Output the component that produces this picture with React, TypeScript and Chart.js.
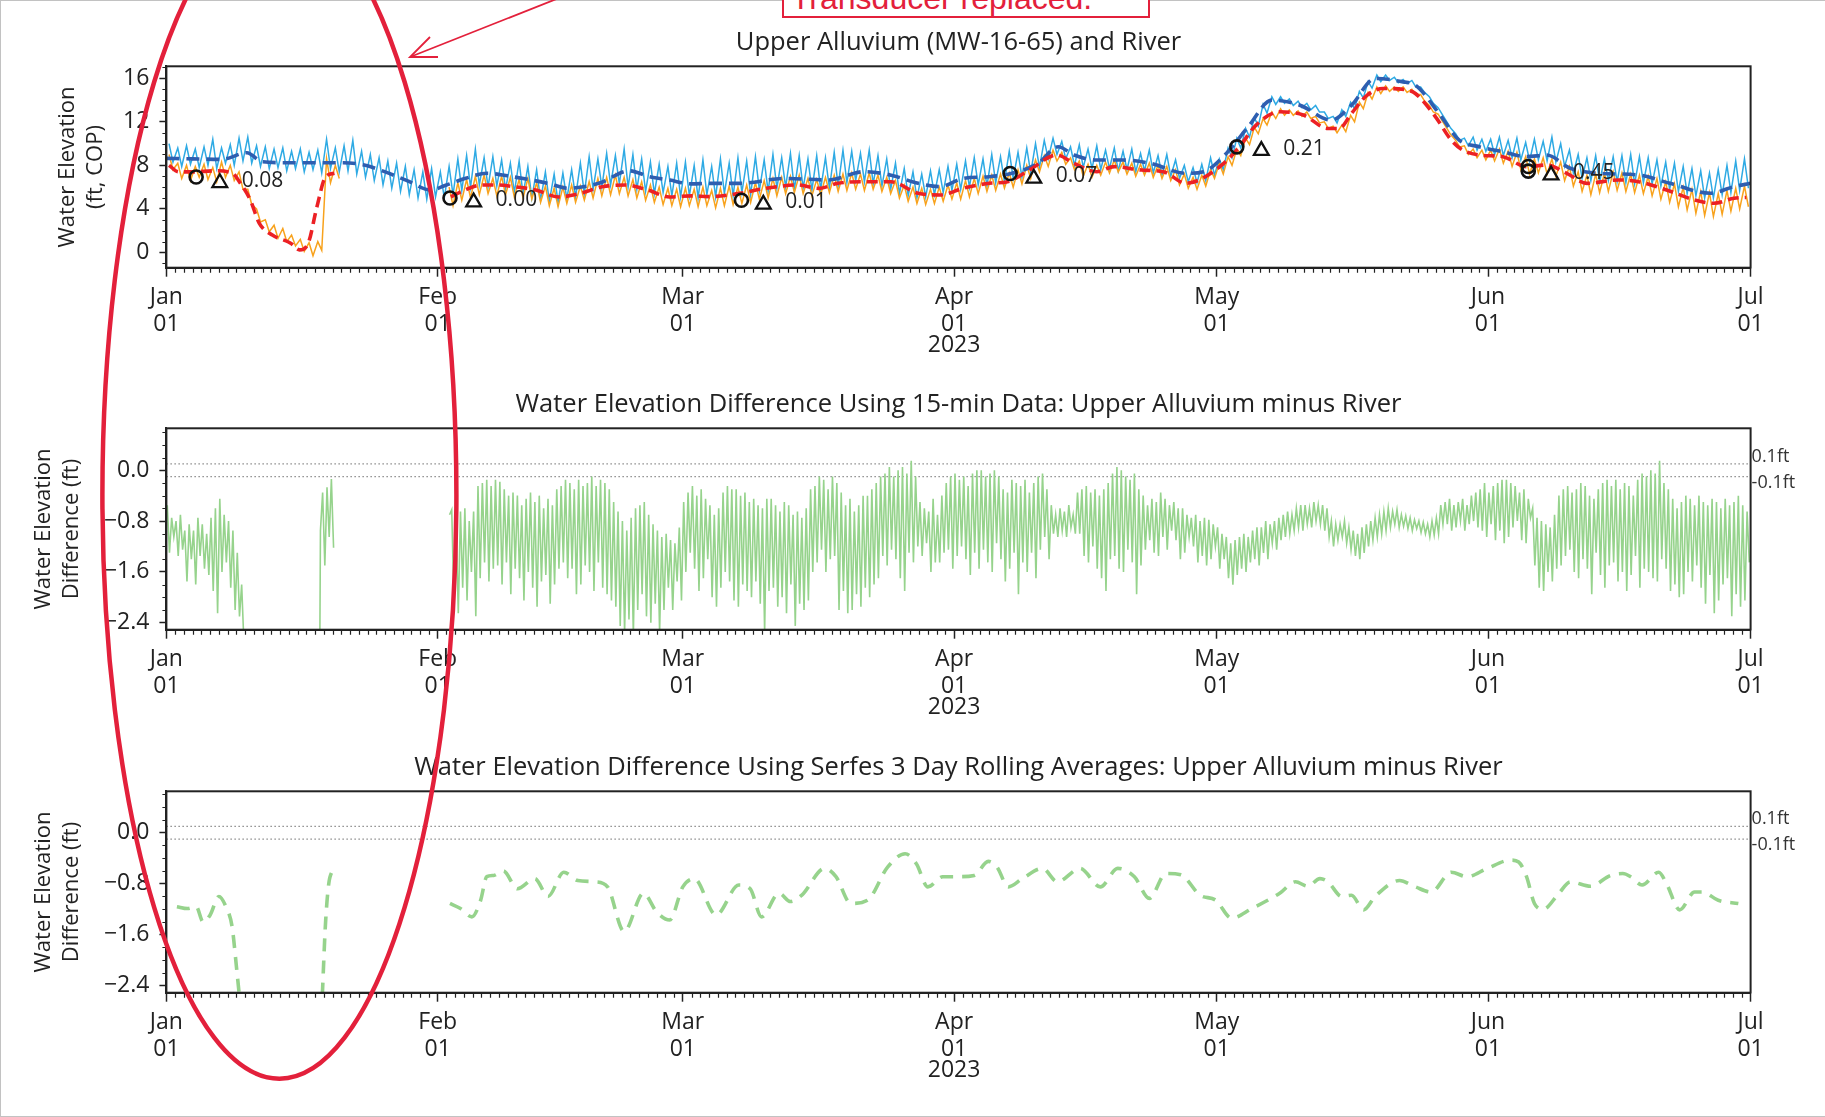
import React, { useEffect, useRef } from 'react';
import { Chart, registerables } from 'chart.js';

Chart.register(...registerables);

const FONT = "'Open Sans', 'Noto Sans', 'DejaVu Sans', sans-serif";
const INK = '#222222';
const W = 1825;
const H = 1117;
const PANEL_H = 362;
const PANEL_TOPS = [0, 362, 725];
const PLOT_LEFT = 166.4;
const PLOT_RIGHT = 1750.6;
const PLOT_BOTTOM = 267.7;

// ---------- axes content (x = days since 2023-01-01) ----------
const monthTickDays = [0, 31, 59, 90, 120, 151, 181];
const monthNames = ['Jan', 'Feb', 'Mar', 'Apr', 'May', 'Jun', 'Jul'];
const monthDayText = '01';
const yearText = '2023';
const yearTickDay = 90;

const elevTickValues = [0, 4, 8, 12, 16];
const elevMinorValues = [-1, 1, 2, 3, 5, 6, 7, 9, 10, 11, 13, 14, 15, 17];
const diffTickValues = [0, -0.8, -1.6, -2.4];
const diffMinorValues = [0.6, 0.4, 0.2, -0.2, -0.4, -0.6, -1.0, -1.2, -1.4, -1.8, -2.0, -2.2];

const panelTitles = [
  'Upper Alluvium (MW-16-65) and River',
  'Water Elevation Difference Using 15-min Data: Upper Alluvium minus River',
  'Water Elevation Difference Using Serfes 3 Day Rolling Averages: Upper Alluvium minus River',
];
const elevAxisTitle = ['Water Elevation', '(ft, COP)'];
const diffAxisTitle = ['Water Elevation', 'Difference (ft)'];

// ---------- top panel: 15-min river (daily high / low) ----------
const riverHigh = [
  10.0, 9.6, 9.8, 9.5, 9.7, 10.4, 9.6, 9.9, 10.5, 10.6, 9.8, 9.7, 9.5, 9.6, 9.3, 9.5, 9.2, 9.4, 10.4, 9.6, 9.8, 10.3, 9.3, 9.0, 8.7, 8.4, 8.2, 7.9, 7.6, 7.4, 7.7,
  7.4, 7.9, 8.6, 8.9, 9.5, 8.7, 8.8, 8.5, 8.2, 8.4, 7.9, 7.6, 7.4, 7.2, 7.3, 7.6, 8.2, 8.8, 8.6, 9.1, 8.9, 9.5, 9.0, 8.6, 8.3, 8.1, 7.9, 8.2,
  8.3, 8.0, 8.5, 7.9, 8.6, 8.2, 8.7, 8.4, 8.8, 8.5, 9.0, 8.7, 9.1, 8.9, 8.6, 8.9, 8.7, 9.2, 9.4, 9.3, 9.1, 9.4, 8.9, 8.6, 8.2, 7.7, 7.4, 7.2, 7.5, 7.6, 7.9,
  8.1, 8.4, 8.7, 8.6, 9.0, 8.8, 9.3, 9.2, 9.6, 10.0, 10.3, 10.5, 10.2, 9.7, 9.9, 9.5, 9.8, 9.4, 9.6, 9.3, 9.5, 9.1, 9.4, 8.9, 9.0, 8.5, 8.0, 7.8, 8.1, 8.7,
  8.6, 9.6, 10.5, 11.4, 12.4, 13.6, 14.3, 14.3, 14.1, 13.9, 13.7, 13.5, 12.9, 12.5, 13.1, 13.8, 14.8, 15.7, 16.3, 16.3, 16.1, 15.9, 15.8, 15.2, 14.3, 13.3, 12.0, 10.9, 10.5, 10.6, 10.4,
  10.4, 10.6, 10.3, 10.5, 10.1, 10.4, 10.2, 10.6, 10.0, 9.4, 9.0, 8.7, 8.9, 8.6, 8.8, 8.9, 9.0, 8.8, 8.7, 8.5, 8.3, 8.2, 7.9, 7.7, 7.5, 7.3, 7.6, 8.0, 8.4, 8.6,
];
const riverLow = [
  8.3, 7.9, 8.1, 7.8, 8.0, 7.7, 8.2, 8.0, 8.4, 8.2, 7.9, 7.7, 7.8, 7.5, 7.7, 7.4, 7.6, 7.3, 7.7, 7.4, 7.5, 7.2, 6.9, 6.6, 6.2, 5.9, 5.6, 5.3, 5.0, 4.9, 5.1,
  5.0, 5.3, 5.7, 6.0, 6.2, 6.0, 6.1, 5.8, 5.5, 5.3, 5.0, 4.8, 4.7, 4.6, 4.9, 5.1, 5.4, 5.8, 6.0, 6.2, 6.3, 6.0, 5.8, 5.6, 5.4, 5.5, 5.2, 5.1,
  5.2, 5.0, 5.3, 5.1, 5.4, 5.2, 5.5, 5.3, 5.7, 5.6, 5.9, 6.0, 5.8, 5.9, 5.7, 5.8, 5.9, 6.1, 6.4, 6.6, 6.5, 6.3, 6.1, 5.8, 5.4, 5.2, 5.0, 5.1, 5.3, 5.5, 5.7,
  5.8, 6.0, 6.2, 6.1, 6.4, 6.5, 6.8, 6.9, 7.3, 7.8, 8.6, 9.0, 8.6, 8.0, 7.8, 7.7, 7.6, 7.7, 7.5, 7.6, 7.4, 7.5, 7.3, 7.1, 7.0, 6.8, 6.5, 6.4, 6.6, 7.1,
  7.6, 8.7, 9.6, 10.6, 11.6, 12.8, 13.6, 13.7, 13.5, 13.3, 13.1, 12.9, 12.3, 11.9, 12.5, 13.2, 14.2, 15.1, 15.7, 15.8, 15.6, 15.5, 15.2, 14.7, 13.7, 12.7, 11.4, 10.3, 9.8, 9.4, 9.3,
  9.0, 8.9, 8.7, 8.5, 8.4, 8.5, 8.4, 8.3, 7.9, 7.3, 6.8, 6.6, 6.5, 6.6, 6.5, 6.4, 6.3, 6.4, 6.3, 6.1, 5.8, 5.6, 5.4, 5.2, 5.0, 5.0, 5.3, 5.5, 5.7, 5.9,
];

// ---------- top panel: 15-min upper alluvium (daily high / low) ----------
const alluvHigh = [
  9.0, 8.2, 8.0, 7.9, 8.1, 7.8, 8.3, 8.0, 7.4, 5.8, 4.0, 3.0, 2.5, 2.2, 1.6, 1.2, 0.9, 1.0, 8.6, 8.0,
  null, null, null, null, null, null, null, null, null, null, null, null,
  6.0, 6.4, 6.7, 7.0, 7.1, 6.8, 7.0, 6.9, 6.7, 6.8, 6.4, 6.1, 5.9, 6.0, 6.2, 6.1, 6.5, 6.8, 6.9, 7.1, 6.9, 6.7, 6.5, 6.2, 6.0, 5.9, 5.8,
  5.9, 5.8, 6.0, 5.7, 5.9, 6.1, 6.0, 6.2, 6.4, 6.6, 6.8, 6.9, 7.0, 7.1, 6.8, 6.7, 6.9, 7.1, 7.2, 7.3, 7.2, 7.3, 7.1, 6.9, 6.6, 6.2, 6.0, 5.9, 5.8, 6.0, 6.2,
  6.4, 6.6, 6.8, 7.0, 7.1, 7.2, 7.3, 7.6, 8.0, 8.5, 8.9, 9.4, 9.2, 8.7, 8.4, 8.1, 8.0, 8.3, 8.5, 8.3, 8.2, 8.1, 8.2, 8.0, 7.9, 7.6, 7.2, 6.9, 7.1, 7.6,
  8.2, 8.8, 9.5, 10.5, 11.5, 12.3, 12.9, 13.2, 13.1, 13.0, 12.9, 12.5, 12.0, 11.6, 11.7, 12.6, 13.8, 14.7, 15.2, 15.3, 15.2, 15.2, 15.0, 14.5, 13.5, 12.7, 11.4, 10.3, 9.8, 9.5, 9.4,
  9.4, 9.5, 9.3, 9.2, 8.8, 8.6, 8.7, 8.6, 8.3, 7.9, 7.4, 7.1, 7.2, 7.3, 7.4, 7.3, 7.2, 7.1, 7.0, 6.8, 6.5, 6.3, 6.0, 5.8, 5.6, 5.5, 5.4, 5.7, 5.9, 6.1,
];
const alluvLow = [
  7.6, 6.8, 6.6, 6.9, 6.7, 6.5, 6.9, 6.6, 5.8, 4.4, 2.8, 1.9, 1.3, 1.0, 0.6, 0.1, -0.3, 0.2, 6.4, 6.8,
  null, null, null, null, null, null, null, null, null, null, null, null,
  4.3, 4.8, 5.0, 5.3, 5.4, 5.2, 5.3, 5.1, 5.0, 4.9, 4.6, 4.3, 4.2, 4.5, 4.6, 4.8, 5.0, 5.2, 5.3, 5.4, 5.2, 5.0, 4.8, 4.6, 4.4, 4.3, 4.2,
  4.3, 4.2, 4.3, 4.1, 4.3, 4.4, 4.5, 4.6, 4.9, 5.0, 5.2, 5.4, 5.5, 5.4, 5.2, 5.3, 5.5, 5.6, 5.7, 5.8, 5.7, 5.8, 5.6, 5.4, 5.0, 4.7, 4.5, 4.4, 4.5, 4.7, 4.9,
  4.9, 5.1, 5.4, 5.6, 5.7, 5.9, 6.0, 6.3, 6.8, 7.4, 7.9, 8.4, 8.1, 7.6, 7.0, 6.9, 7.1, 7.3, 7.4, 7.2, 7.0, 7.1, 6.9, 6.8, 6.6, 6.2, 5.9, 5.8, 6.1, 6.8,
  7.2, 8.0, 8.9, 9.9, 10.9, 11.7, 12.3, 12.6, 12.6, 12.5, 12.3, 11.9, 11.4, 11.0, 11.1, 12.0, 13.2, 14.1, 14.6, 14.8, 14.8, 14.7, 14.5, 13.9, 12.9, 12.1, 10.8, 9.7, 9.0, 8.7, 8.5,
  8.4, 8.2, 7.9, 7.6, 7.2, 7.3, 7.2, 7.0, 6.6, 6.1, 5.6, 5.3, 5.5, 5.6, 5.7, 5.6, 5.5, 5.4, 5.2, 4.9, 4.6, 4.2, 3.9, 3.6, 3.4, 3.3, 3.5, 3.8, 4.0, 4.2,
];

// ---------- top panel: rolling averages ----------
const riverAvgDays = [0, 3, 6.3, 9.2, 10.9, 14, 17, 20.2, 22.6, 25, 27.5, 30.2, 32, 34.2, 36.6, 39.5, 43.6, 45.9, 49.4, 52.9, 55.2, 57.5, 59.9, 62.2, 65.5, 70.6, 75.7, 79.7, 82.8, 85.9, 88.4, 91, 94, 96.6, 99.6, 101.9, 103.7, 106.3, 109.3, 112.4, 116.5, 118.5, 121.1, 123.6, 126.3, 129.5, 133.1, 135.4, 138.1, 141.3, 142.7, 145.4, 147.7, 150, 152.7, 155.4, 157.7, 160.4, 163.6, 168.2, 171.8, 176.4, 179.1, 181];
const riverAvgVals = [8.64, 8.6, 8.55, 9.16, 8.34, 8.24, 8.24, 8.24, 8.03, 7.4, 6.6, 5.74, 6.2, 6.81, 7.27, 6.96, 6.35, 5.9, 6.35, 7.5, 6.96, 6.65, 6.3, 6.35, 6.35, 6.8, 6.66, 7.42, 7.1, 6.35, 6.05, 6.8, 6.96, 7.27, 8.19, 9.71, 8.95, 8.49, 8.49, 8.19, 7.27, 7.42, 9.1, 11.55, 13.99, 13.53, 12.16, 13.53, 15.98, 15.67, 15.37, 12.77, 10.32, 9.71, 9.25, 8.8, 8.95, 7.73, 7.27, 7.12, 6.35, 5.44, 6.05, 6.35];
const alluvAvgDays = [0.3, 1.4, 3, 5.5, 7.5, 8.5, 9.6, 10.6, 12.1, 14.2, 15.2, 16.2, 17.2, 18.2, 19.2, 20, 32.5, 34, 36.1, 38, 39.6, 42.2, 44.8, 47.3, 49.9, 52.4, 55, 57.5, 60, 62, 65.5, 68.5, 72.1, 74.6, 76.7, 79.7, 82.8, 85.9, 88.4, 91, 94, 96.1, 98.6, 101.7, 103.7, 106.3, 108.3, 111.4, 113.9, 116.5, 118, 120.8, 122.6, 124.5, 127.2, 129.9, 132.7, 134, 135.4, 137.2, 139, 141.8, 142.7, 145, 146.8, 148.1, 150, 152.7, 155.4, 157.7, 160, 162.3, 165.9, 168.2, 171.4, 174.6, 176.8, 179.1, 180.5];
const alluvAvgVals = [8.0, 7.4, 7.4, 7.5, 7.3, 6.3, 4.8, 2.7, 1.6, 0.85, 0.24, 0.85, 4.2, 6.96, 7.27, null, 5.1, 5.7, 6.2, 6.2, 6.05, 5.74, 5.1, 5.43, 6.05, 6.2, 5.74, 5.1, 5.2, 5.13, 5.43, 5.89, 6.2, 5.89, 6.35, 6.5, 6.5, 5.43, 5.28, 5.89, 6.35, 6.5, 7.57, 8.95, 8.19, 7.42, 7.88, 7.57, 7.42, 6.35, 6.66, 8.19, 9.71, 11.7, 12.92, 12.62, 11.39, 11.39, 12.77, 14.45, 15.06, 14.91, 14.6, 12.46, 10.32, 9.41, 8.95, 8.8, 7.88, 8.03, 7.27, 6.35, 6.66, 6.5, 5.74, 4.82, 4.52, 4.98, 5.05];

// ---------- top panel: comparison markers ----------
const circleDays = [3.4, 32.4, 65.7, 96.4, 122.3, 155.6, 155.6];
const circleVals = [6.93, 5.0, 4.8, 7.25, 9.7, 7.9, 7.47];
const triangleDays = [6.1, 35.1, 68.2, 99.1, 125.1, 158.2];
const triangleVals = [6.4, 4.62, 4.42, 6.8, 9.35, 7.1];
const markerTexts = ['0.08', '0.00', '0.01', '0.07', '0.21', '0.45'];

// ---------- middle panel: 15-min difference, two samples per half day ----------
const diffA = [
  -0.55, -0.75, -0.80, -0.70, -0.95, -0.85, -0.95, -0.75, -0.85, -1.00, -0.75, -0.60, -0.45, -0.70, -0.80, -0.95, -1.30, -1.80, -3.0, -3.8,
  -5.0, -5.6, -6.2, -6.5, -6.8, -7.0, -7.1, -7.3, -7.4, -7.5, -7.6, -7.8, -7.5, -7.2, -6.8, -0.95, -1.50, -1.05, -1.22, null,
  null, null, null, null, null, null, null, null, null, null, null, null, null, null, null, null, null, null, null, null,
  null, null, null, null, null, -0.62, -0.85, -0.65, -0.60, -0.80, -0.65, -0.25, -0.20, -0.15, -0.25, -0.15, -0.18, -0.30, -0.40, -0.35,
  -0.40, -0.55, -0.45, -0.35, -0.50, -0.40, -0.60, -0.45, -0.55, -0.30, -0.25, -0.15, -0.20, -0.30, -0.15, -0.25, -0.20, -0.10, -0.25, -0.15,
  -0.20, -0.30, -0.50, -0.65, -0.80, -0.95, -0.75, -0.60, -0.55, -0.50, -0.70, -0.85, -0.95, -1.05, -1.00, -1.10, -1.15, -0.90, -0.50, -0.35,
  -0.25, -0.40, -0.30, -0.45, -0.55, -0.70, -0.60, -0.35, -0.25, -0.30, -0.30, -0.40, -0.35, -0.50, -0.45, -0.55, -0.60, -0.45, -0.45, -0.55,
  -0.65, -0.50, -0.55, -0.70, -0.65, -0.75, -0.60, -0.30, -0.25, -0.10, -0.15, -0.30, -0.10, -0.20, -0.35, -0.55, -0.45, -0.65, -0.55, -0.40,
  -0.40, -0.30, -0.20, -0.10, -0.05, 0.05, -0.10, 0.00, 0.05, -0.05, 0.15, -0.10, -0.50, -0.60, -0.65, -0.45, -0.70, -0.40, -0.20, -0.10,
  -0.05, -0.15, -0.10, -0.25, -0.05, 0.00, 0.00, -0.10, -0.05, 0.00, -0.10, -0.30, -0.35, -0.15, -0.20, -0.25, -0.15, -0.35, -0.20, -0.10,
  -0.05, -0.30, -0.55, -0.70, -0.60, -0.65, -0.55, -0.70, -0.35, -0.30, -0.25, -0.35, -0.30, -0.40, -0.30, -0.20, -0.05, 0.05, 0.00, -0.10,
  -0.15, -0.05, -0.30, -0.40, -0.55, -0.45, -0.50, -0.35, -0.45, -0.55, -0.50, -0.60, -0.60, -0.70, -0.75, -0.70, -0.80, -0.75, -0.78, -0.85,
  -0.90, -1.00, -1.05, -1.15, -1.10, -1.05, -1.00, -1.05, -0.95, -0.90, -0.90, -0.80, -0.85, -0.80, -0.75, -0.70, -0.65, -0.70, -0.60, -0.55,
  -0.55, -0.60, -0.50, -0.55, -0.55, -0.60, -0.80, -0.85, -0.85, -0.80, -0.90, -0.95, -1.00, -0.90, -0.85, -0.80, -0.75, -0.70, -0.65, -0.60,
  -0.65, -0.62, -0.70, -0.72, -0.75, -0.78, -0.80, -0.82, -0.85, -0.80, -0.75, -0.55, -0.50, -0.45, -0.55, -0.50, -0.45, -0.55, -0.40, -0.35,
  -0.30, -0.20, -0.35, -0.25, -0.20, -0.15, -0.15, -0.20, -0.25, -0.35, -0.30, -0.45, -0.60, -0.75, -0.80, -0.85, -0.90, -0.70, -0.40, -0.30,
  -0.25, -0.35, -0.30, -0.20, -0.25, -0.40, -0.45, -0.30, -0.20, -0.15, -0.25, -0.15, -0.30, -0.20, -0.25, -0.40, -0.15, -0.05, -0.10, 0.00,
  -0.05, 0.15, -0.20, -0.30, -0.45, -0.60, -0.50, -0.40, -0.45, -0.55, -0.40, -0.50, -0.55, -0.45, -0.50, -0.60, -0.45, -0.55, -0.50, -0.40, -0.55, -0.65,
];
const diffB = [
  -1.30, -1.05, -1.35, -1.25, -1.75, -1.40, -1.80, -1.35, -1.55, -1.65, -1.90, -2.25, -1.60, -1.45, -1.85, -2.20, -2.30, -2.70, -4.2, -4.8,
  -6.0, -6.4, -6.8, -7.0, -7.3, -7.5, -7.6, -7.8, -7.9, -8.0, -8.1, -8.3, -7.9, -7.6, -7.2, -0.35, -0.27, -0.14, null, null,
  null, null, null, null, null, null, null, null, null, null, null, null, null, null, null, null, null, null, null, null,
  null, null, null, null, -0.70, -2.10, -2.25, -1.85, -2.05, -1.60, -2.30, -1.70, -1.45, -1.75, -1.55, -1.50, -1.80, -1.45, -1.95, -1.55,
  -1.70, -2.05, -1.60, -1.85, -2.15, -1.75, -1.65, -2.10, -1.80, -1.55, -1.45, -1.70, -1.55, -1.95, -1.80, -1.50, -1.60, -1.90, -1.45, -1.85,
  -1.95, -2.05, -2.15, -2.45, -2.55, -2.35, -2.60, -2.20, -1.95, -2.30, -2.40, -2.10, -2.55, -2.20, -1.85, -2.20, -1.75, -2.05, -1.60, -1.30,
  -1.55, -1.90, -1.70, -1.40, -2.00, -2.15, -1.85, -1.60, -1.75, -2.05, -2.15, -1.80, -1.90, -2.00, -1.75, -2.10, -2.55, -1.90, -1.85, -2.15,
  -2.00, -2.25, -1.80, -2.45, -2.10, -2.20, -2.05, -1.60, -1.45, -1.25, -1.60, -1.40, -1.35, -2.20, -1.90, -2.25, -2.20, -1.95, -2.15, -1.85,
  -2.00, -1.80, -1.70, -1.35, -1.50, -1.25, -1.40, -1.70, -1.90, -1.30, -1.45, -1.20, -1.35, -1.15, -1.60, -1.45, -1.45, -1.30, -1.25, -1.55,
  -1.35, -1.20, -1.40, -1.65, -1.30, -1.55, -1.25, -1.45, -1.60, -1.15, -1.40, -1.75, -1.55, -1.30, -1.95, -1.45, -1.60, -1.30, -1.70, -1.25,
  -1.05, -1.40, -1.00, -1.05, -0.95, -1.05, -0.90, -1.00, -1.00, -1.35, -1.45, -1.20, -1.55, -1.70, -1.90, -1.40, -1.35, -1.55, -1.60, -1.25,
  -1.45, -1.95, -1.50, -1.25, -1.10, -1.30, -1.35, -1.05, -1.25, -0.95, -1.10, -1.40, -1.30, -1.05, -1.20, -1.45, -1.35, -1.50, -1.40, -1.20,
  -1.55, -1.40, -1.70, -1.80, -1.65, -1.55, -1.60, -1.45, -1.40, -1.50, -1.30, -1.40, -1.15, -1.25, -1.10, -1.05, -1.00, -0.95, -0.90, -0.95,
  -0.85, -0.90, -0.80, -0.85, -0.95, -1.05, -1.20, -1.10, -1.05, -1.15, -1.25, -1.35, -1.40, -1.30, -1.20, -1.10, -1.05, -1.00, -0.95, -0.90,
  -0.85, -0.90, -0.88, -0.92, -0.95, -0.92, -0.98, -1.00, -1.05, -1.02, -1.00, -0.85, -0.85, -0.95, -0.90, -0.80, -0.95, -0.85, -0.80, -0.90,
  -0.95, -1.05, -0.85, -1.10, -0.95, -1.15, -1.05, -0.90, -0.80, -1.10, -1.15, -0.75, -1.50, -1.85, -1.90, -1.60, -1.75, -1.55, -1.50, -1.35,
  -1.25, -1.60, -1.70, -1.40, -1.55, -1.95, -1.30, -1.65, -1.85, -1.50, -1.45, -1.75, -1.60, -1.90, -1.65, -1.35, -1.85, -1.55, -1.60, -1.70,
  -1.75, -1.40, -1.55, -1.90, -1.80, -2.00, -1.95, -1.60, -1.75, -1.50, -1.85, -2.10, -1.65, -2.25, -2.05, -1.80, -1.70, -2.30, -1.95, -2.15, -2.05, -1.45,
];

// ---------- bottom panel: 3-day rolling average difference ----------
const rollDays = [1.2, 2.4, 3.4, 4.2, 5.0, 6.0, 6.8, 7.5, 8.0, 8.5, 9.0, 10, 12, 14, 16, 17.2, 17.8, 18.2, 18.7, 19.6, 20, 32.4, 33.6, 34.9, 35.9, 36.6, 37.4, 38.5, 40.1, 42.1, 43.6, 45.4, 47, 49, 50.4, 52.3, 54.5, 56, 57.5, 59, 60.3, 62.8, 65.4, 66.7, 68, 70, 71.3, 72.6, 75.2, 76.5, 78.2, 80.1, 82.4, 84.4, 85.7, 87, 88.7, 90.3, 92.3, 93.9, 94.9, 96.2, 97.8, 100.1, 101.8, 104.4, 106.7, 108.7, 110.6, 112.3, 114.2, 115.9, 118.1, 119.9, 121.7, 124, 127.2, 129, 130.4, 131.8, 132.7, 134.3, 135.4, 136.8, 138.1, 140.9, 142.7, 144.5, 146.8, 148.6, 150.9, 153.6, 154.5, 155.4, 156.3, 157.3, 159.1, 160.4, 162.7, 165, 166.4, 167.3, 168.6, 170.5, 171.4, 172.9, 174.6, 175.5, 177.3, 179.6];
const rollVals = [-1.16, -1.19, -1.16, -1.40, -1.29, -1.0, -1.16, -1.47, -2.1, -2.8, -3.6, -4.8, -6.0, -6.6, -6.3, -4.5, -2.6, -1.37, -0.69, -0.55, null, -1.11, -1.19, -1.32, -1.06, -0.69, -0.67, -0.6, -0.88, -0.72, -1.0, -0.62, -0.75, -0.77, -0.85, -1.55, -0.95, -1.24, -1.37, -0.85, -0.72, -1.29, -0.82, -0.88, -1.32, -0.95, -1.08, -0.98, -0.56, -0.69, -1.11, -1.06, -0.54, -0.33, -0.49, -0.85, -0.69, -0.69, -0.67, -0.45, -0.54, -0.85, -0.72, -0.56, -0.77, -0.56, -0.85, -0.56, -0.69, -1.03, -0.64, -0.66, -0.98, -1.06, -1.34, -1.19, -0.95, -0.77, -0.84, -0.72, -0.77, -1.0, -0.98, -1.21, -1.0, -0.75, -0.85, -0.93, -0.62, -0.69, -0.56, -0.43, -0.46, -0.69, -1.11, -1.2, -0.95, -0.77, -0.84, -0.67, -0.64, -0.69, -0.82, -0.62, -0.8, -1.21, -0.93, -0.93, -1.06, -1.11];

const thresholdLevels = [0.1, -0.1];
const thresholdTexts = ['0.1ft', '-0.1ft'];

// ---------- colours ----------
const C_RIVER = '#2EAAE4';
const C_ALLUV = '#F8A21C';
const C_RIVER_AVG = '#2E5EB0';
const C_ALLUV_AVG = '#EC2024';
const C_GREEN = '#96D38C';
const C_RED_NOTE = '#E3203B';

// ---------- helpers to build library tables ----------
const pairs = (xs: number[], ys: (number | null)[]) => xs.map((x, i) => ({ x, y: ys[i] }));
const dailyZigzag = (hi: (number | null)[], lo: (number | null)[]) =>
  hi.flatMap((h, i) => [{ x: i + 0.3, y: h }, { x: i + 0.75, y: lo[i] }]);
const halfDayZigzag = (a: (number | null)[], b: (number | null)[]) =>
  a.flatMap((v, k) => [{ x: k / 2 + 0.1, y: v }, { x: k / 2 + 0.35, y: b[k] }]);

const diffLabel = (v: number) => (Math.abs(v) < 1e-9 ? '0.0' : (v < 0 ? '\u2212' : '') + Math.abs(v).toFixed(1));

const TICK_FONT = 23;

function xScale() {
  return {
    type: 'linear',
    min: 0,
    max: 181,
    afterBuildTicks: (s: any) => { s.ticks = monthTickDays.map((v) => ({ value: v })); },
    afterFit: (s: any) => { s.height = PANEL_H - PLOT_BOTTOM; },
    ticks: {
      autoSkip: false,
      maxRotation: 0,
      minRotation: 0,
      padding: 7.8,
      color: INK,
      font: { family: FONT, size: TICK_FONT, lineHeight: 1.165 },
      callback: (v: any) => {
        const i = monthTickDays.indexOf(v);
        return i < 0 ? '' : [monthNames[i], monthDayText];
      },
    },
    grid: { display: true, drawOnChartArea: false, drawTicks: true, tickLength: 9, tickColor: INK, tickWidth: 1.5 },
    border: { display: true, color: INK, width: 2 },
  };
}

function yScale(min: number, max: number, ticks: number[], fmt: (v: number) => string, title: string[], titlePad: number) {
  return {
    type: 'linear',
    min,
    max,
    afterBuildTicks: (s: any) => { s.ticks = ticks.map((v) => ({ value: v })); },
    afterFit: (s: any) => { s.width = PLOT_LEFT; },
    ticks: { padding: 10, color: INK, font: { family: FONT, size: TICK_FONT }, callback: (v: any) => fmt(Number(v)) },
    grid: { display: true, drawOnChartArea: false, drawTicks: true, tickLength: 7, tickColor: INK, tickWidth: 1.5 },
    border: { display: true, color: INK, width: 2 },
    title: {
      display: true,
      text: title,
      color: INK,
      font: { family: FONT, size: 22, lineHeight: 1.27 },
      padding: { top: titlePad, bottom: 0 },
    },
  };
}

function decor(minorY: number[], extra?: (chart: any) => void) {
  return {
    id: 'decor',
    afterDraw(chart: any) {
      const { ctx, chartArea: a, scales } = chart;
      const xs = scales.x;
      const ys = scales.y;
      ctx.save();
      ctx.strokeStyle = INK;
      ctx.lineWidth = 1.2;
      ctx.beginPath();
      for (let d = 1; d < 181; d++) {
        if (monthTickDays.includes(d)) continue;
        const px = Math.round(xs.getPixelForValue(d)) + 0.5;
        ctx.moveTo(px, a.bottom);
        ctx.lineTo(px, a.bottom + 5);
      }
      for (const v of minorY) {
        const py = Math.round(ys.getPixelForValue(v)) + 0.5;
        ctx.moveTo(a.left, py);
        ctx.lineTo(a.left - 4, py);
      }
      ctx.stroke();
      ctx.lineWidth = 2;
      ctx.strokeRect(a.left, a.top, a.right - a.left, a.bottom - a.top);
      ctx.fillStyle = INK;
      ctx.font = `${TICK_FONT}px ${FONT}`;
      ctx.textAlign = 'center';
      ctx.textBaseline = 'middle';
      ctx.fillText(yearText, xs.getPixelForValue(yearTickDay), a.bottom + 78);
      if (extra) extra(chart);
      ctx.restore();
    },
  };
}

const markerTextPlugin = (chart: any) => {
  const { ctx, scales } = chart;
  ctx.fillStyle = INK;
  ctx.font = `21px ${FONT}`;
  ctx.textAlign = 'left';
  ctx.textBaseline = 'middle';
  markerTexts.forEach((t, i) => {
    ctx.fillText(t, scales.x.getPixelForValue(triangleDays[i]) + 22, scales.y.getPixelForValue(triangleVals[i]) - 2);
  });
};

const thresholdTextPlugin = (chart: any) => {
  const { ctx, scales, chartArea: a } = chart;
  ctx.fillStyle = '#333';
  ctx.font = `18px ${FONT}`;
  ctx.textAlign = 'left';
  ctx.textBaseline = 'middle';
  thresholdLevels.forEach((lv, i) => {
    const py = scales.y.getPixelForValue(lv) + (lv > 0 ? -7 : 6);
    ctx.fillText(thresholdTexts[i], a.right + 1, py);
  });
};

function baseOptions(title: string, y: any) {
  return {
    responsive: false,
    animation: false,
    devicePixelRatio: 1,
    events: [],
    layout: { padding: { left: 0, right: W - PLOT_RIGHT, top: 0, bottom: 0 } },
    plugins: {
      legend: { display: false },
      tooltip: { enabled: false },
      title: {
        display: true,
        fullSize: false,
        text: title,
        color: INK,
        font: { family: FONT, size: 25.5, weight: 'normal', lineHeight: 1.2 },
        padding: { top: 27.4, bottom: 8.3 },
      },
    },
    scales: { x: xScale(), y },
  };
}

const thresholdDatasets = () =>
  thresholdLevels.map((lv) => ({
    data: [{ x: 0, y: lv }, { x: 181, y: lv }],
    borderColor: '#8c8c8c',
    borderWidth: 1.1,
    borderDash: [1.5, 2.5],
    pointRadius: 0,
    order: 5,
  }));

function elevationConfig(): any {
  return {
    type: 'line',
    data: {
      datasets: [
        {
          data: pairs(circleDays, circleVals), showLine: false, pointStyle: 'circle', pointRadius: 6.5,
          pointBorderWidth: 2.6, pointBorderColor: '#111', pointBackgroundColor: 'rgba(0,0,0,0)', order: 0,
        },
        {
          data: pairs(triangleDays, triangleVals), showLine: false, pointStyle: 'triangle', pointRadius: 8.5,
          pointBorderWidth: 2.3, pointBorderColor: '#111', pointBackgroundColor: 'rgba(0,0,0,0)', order: 1,
        },
        {
          data: pairs(alluvAvgDays, alluvAvgVals), borderColor: C_ALLUV_AVG, borderWidth: 3.6, borderDash: [11, 6],
          pointRadius: 0, cubicInterpolationMode: 'monotone', order: 2,
        },
        {
          data: pairs(riverAvgDays, riverAvgVals), borderColor: C_RIVER_AVG, borderWidth: 3.6, borderDash: [13, 7],
          pointRadius: 0, cubicInterpolationMode: 'monotone', order: 3,
        },
        { data: dailyZigzag(alluvHigh, alluvLow), borderColor: C_ALLUV, borderWidth: 1.5, pointRadius: 0, order: 4 },
        { data: dailyZigzag(riverHigh, riverLow), borderColor: C_RIVER, borderWidth: 1.5, pointRadius: 0, order: 5 },
      ],
    },
    options: baseOptions(
      panelTitles[0],
      yScale(-1.4, 17.1, elevTickValues, (v) => String(Math.round(v)), elevAxisTitle, 53.5),
    ),
    plugins: [decor(elevMinorValues, markerTextPlugin)],
  };
}

function diffConfig(): any {
  return {
    type: 'line',
    data: {
      datasets: [
        { data: halfDayZigzag(diffA, diffB), borderColor: C_GREEN, borderWidth: 1.6, pointRadius: 0, order: 1 },
        ...thresholdDatasets(),
      ],
    },
    options: baseOptions(panelTitles[1], yScale(-2.51, 0.66, diffTickValues, diffLabel, diffAxisTitle, 30)),
    plugins: [decor(diffMinorValues, thresholdTextPlugin)],
  };
}

function rollConfig(): any {
  return {
    type: 'line',
    data: {
      datasets: [
        {
          data: pairs(rollDays, rollVals), borderColor: C_GREEN, borderWidth: 3.6, borderDash: [13, 9],
          pointRadius: 0, cubicInterpolationMode: 'monotone', order: 1,
        },
        ...thresholdDatasets(),
      ],
    },
    options: baseOptions(panelTitles[2], yScale(-2.51, 0.65, diffTickValues, diffLabel, diffAxisTitle, 30)),
    plugins: [decor(diffMinorValues, thresholdTextPlugin)],
  };
}

export default function App() {
  const r1 = useRef<HTMLCanvasElement>(null);
  const r2 = useRef<HTMLCanvasElement>(null);
  const r3 = useRef<HTMLCanvasElement>(null);

  useEffect(() => {
    const charts = [
      new Chart(r1.current as HTMLCanvasElement, elevationConfig()),
      new Chart(r2.current as HTMLCanvasElement, diffConfig()),
      new Chart(r3.current as HTMLCanvasElement, rollConfig()),
    ];
    return () => charts.forEach((c) => c.destroy());
  }, []);

  const canvasStyle = (top: number): React.CSSProperties => ({
    position: 'absolute', left: 0, top, width: W, height: PANEL_H, display: 'block',
  });

  return (
    <div style={{ position: 'absolute', left: 0, top: 0, width: W, height: H, background: '#fff', overflow: 'hidden' }}>
      <canvas ref={r1} width={W} height={PANEL_H} style={canvasStyle(PANEL_TOPS[0])} />
      <canvas ref={r2} width={W} height={PANEL_H} style={canvasStyle(PANEL_TOPS[1])} />
      <canvas ref={r3} width={W} height={PANEL_H} style={canvasStyle(PANEL_TOPS[2])} />
      <div
        style={{
          position: 'absolute', left: 0, top: 0, width: W, height: H, boxSizing: 'border-box',
          borderTop: '1px solid #c2c2c2', borderLeft: '1px solid #c2c2c2', borderBottom: '1px solid #c2c2c2',
          pointerEvents: 'none',
        }}
      />
      <svg width={W} height={H} style={{ position: 'absolute', left: 0, top: 0, pointerEvents: 'none' }}>
        <ellipse cx={279.4} cy={494.7} rx={177} ry={584} fill="none" stroke={C_RED_NOTE} strokeWidth={4.5} />
        <line x1={559} y1={-2} x2={410} y2={57} stroke={C_RED_NOTE} strokeWidth={1.8} />
        <polyline points="438,57 410,57 430,37" fill="none" stroke={C_RED_NOTE} strokeWidth={1.8} />
        <rect x={783} y={-30} width={366} height={47} fill="#fff" stroke={C_RED_NOTE} strokeWidth={2} />
        <text x={791} y={8.5} textAnchor="start" fontFamily="'Liberation Sans', Arial, sans-serif" fontSize={32} fill={C_RED_NOTE}>
          Transducer replaced.
        </text>
      </svg>
    </div>
  );
}
